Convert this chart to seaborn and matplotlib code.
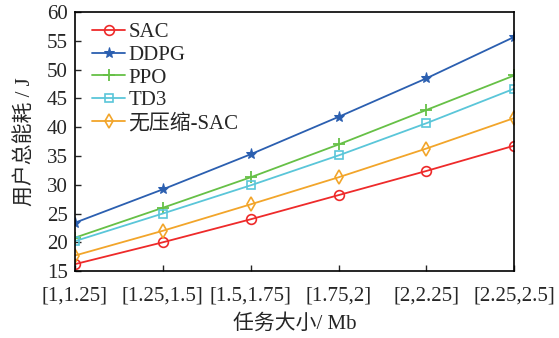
import matplotlib
matplotlib.use("Agg")
import matplotlib.pyplot as plt
import seaborn as sns
import pandas as pd

categories = ["[1,1.25]", "[1.25,1.5]", "[1.5,1.75]", "[1.75,2]", "[2,2.25]", "[2.25,2.5]"]
sac = [16.2, 20.0, 24.0, 28.2, 32.4, 36.8]
ddpg = [23.4, 29.2, 35.3, 41.8, 48.5, 55.7]
ppo = [20.8, 26.0, 31.3, 37.0, 43.0, 49.0]
td3 = [20.2, 25.0, 29.9, 35.1, 40.7, 46.7]
nocomp_sac = [17.7, 22.0, 26.6, 31.3, 36.3, 41.6]

series_names = ["SAC", "DDPG", "PPO", "TD3", "无压缩-SAC"]
series_values = [sac, ddpg, ppo, td3, nocomp_sac]
colors = ["#ee2a2a", "#2b5fb0", "#66c046", "#5ac6d9", "#f2a52a"]
markers = ["o", "*", "+", "s", "d"]

rows = []
for name, vals in zip(series_names, series_values):
    for i, v in enumerate(vals):
        rows.append({"x": i, "energy": v, "method": name})
df = pd.DataFrame(rows)

sns.set_style("ticks")
plt.rcParams["font.family"] = ["Liberation Serif", "Noto Sans CJK SC"]

fig = plt.figure(figsize=(5.59, 3.38), dpi=100)
ax = fig.add_axes([0.134, 0.198, 0.786, 0.766])

sns.lineplot(data=df, x="x", y="energy", hue="method", hue_order=series_names,
             palette=colors, ax=ax, legend=False, linewidth=1.3)

for line, name, c, m in zip(ax.get_lines(), series_names, colors, markers):
    line.set_marker(m)
    line.set_label(name)
    if m in ("o", "s", "d"):
        line.set_markerfacecolor("none")
        line.set_markeredgewidth(1.2)
        line.set_markersize(7 if m != "s" else 6)
    elif m == "*":
        line.set_markersize(8)
        line.set_markerfacecolor(c)
    else:
        line.set_markersize(9)
        line.set_markeredgewidth(1.3)
    line.set_markeredgecolor(c)

ax.set_xlim(0, len(categories) - 1)
ax.set_ylim(15, 60)
ax.set_xticks(range(len(categories)))
ax.set_xticklabels(categories)
ax.set_yticks(range(15, 61, 5))
ax.tick_params(axis="both", direction="in", labelsize=15, length=4, width=1,
               top=False, right=False)
ax.tick_params(axis="x", pad=11)
ax.tick_params(axis="y", pad=5)
for sp in ax.spines.values():
    sp.set_visible(True)
    sp.set_linewidth(1.2)
    sp.set_color("black")

ax.set_xlabel("任务大小/ Mb", fontsize=15, labelpad=6)
ax.set_ylabel("用户总能耗 / J", fontsize=15, labelpad=8)

ax.legend(loc="upper left", frameon=False, fontsize=15, handlelength=1.6,
          handletextpad=0.15, labelspacing=0.15, borderaxespad=0.2,
          borderpad=0.3, bbox_to_anchor=(0.015, 1.0))

fig.savefig("out.png", dpi=100)
